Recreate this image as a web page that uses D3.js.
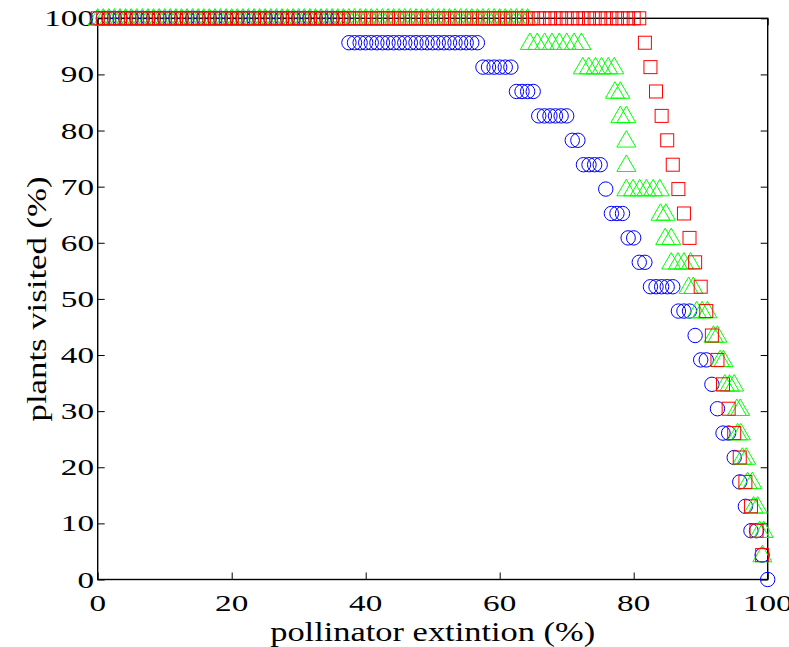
<!DOCTYPE html>
<html><head><meta charset="utf-8">
<script src="https://cdn.jsdelivr.net/npm/d3@7"></script>
<style>body{margin:0;background:#fff}svg{display:block}text{font-family:"Liberation Serif","Times New Roman",Times,serif}</style>
</head><body><svg id="c" width="789" height="647"></svg>
<script>
// shared x positions (pollinator extinction %, blue and red series)
const pollinatorLoss = [
 0,0.83,1.67,2.5,3.33,4.17,5,5.83,6.67,7.5,8.33,9.17,10,10.83,11.67,12.5,13.33,14.17,15,15.83,
 16.67,17.5,18.33,19.17,20,20.83,21.67,22.5,23.33,24.17,25,25.83,26.67,27.5,28.33,29.17,30,30.83,31.67,32.5,
 33.33,34.17,35,35.83,36.67,37.5,38.33,39.17,40,40.83,41.67,42.5,43.33,44.17,45,45.83,46.67,47.5,48.33,49.17,
 50,50.83,51.67,52.5,53.33,54.17,55,55.83,56.67,57.5,58.33,59.17,60,60.83,61.67,62.5,63.33,64.17,65,65.83,
 66.67,67.5,68.33,69.17,70,70.83,71.67,72.5,73.33,74.17,75,75.83,76.67,77.5,78.33,79.17,80,80.83,81.67,82.5,
 83.33,84.17,85,85.83,86.67,87.5,88.33,89.17,90,90.83,91.67,92.5,93.33,94.17,95,95.83,96.67,97.5,98.33,99.17,
 100];

// blue circles: plants visited (%)
const blueVisited = [
 100,100,100,100,100,100,100,100,100,100, 100,100,100,100,100,100,100,100,100,100,
 100,100,100,100,100,100,100,100,100,100, 100,100,100,100,100,100,100,100,100,100,
 100,100,100,100,100,
 95.65,95.65,95.65,95.65,95.65,95.65, 95.65,95.65,95.65,95.65,95.65,95.65,
 95.65,95.65,95.65,95.65,95.65,95.65, 95.65,95.65,95.65,95.65,95.65,95.65,
 91.3,91.3,91.3,91.3,91.3,91.3,
 86.96,86.96,86.96,86.96,
 82.61,82.61,82.61,82.61,82.61,82.61,
 78.26,78.26,
 73.91,73.91,73.91,73.91,
 69.57,
 65.22,65.22,65.22,
 60.87,60.87,
 56.52,56.52,
 52.17,52.17,52.17,52.17,52.17,
 47.83,47.83,47.83,
 43.48,
 39.13,39.13,
 34.78,
 30.43,
 26.09,26.09,
 21.74,
 17.39,
 13.04,
 8.7,8.7,
 4.35,
 0];

// red squares: plants visited (%)
const redVisited = [
 100,100,100,100,100,100,100,100,100,100, 100,100,100,100,100,100,100,100,100,100,
 100,100,100,100,100,100,100,100,100,100, 100,100,100,100,100,100,100,100,100,100,
 100,100,100,100,100,100,100,100,100,100, 100,100,100,100,100,100,100,100,100,100,
 100,100,100,100,100,100,100,100,100,100, 100,100,100,100,100,100,100,100,100,100,
 100,100,100,100,100,100,100,100,100,100, 100,100,100,100,100,100,100,100,
 95.65,91.3,86.96,82.61,78.26,73.91,69.57,65.22,60.87,56.52,52.17,
 47.83,43.48,39.13,34.78,30.43,26.09,21.74,17.39,13.04,8.7,4.35,
 null];

// green triangles: own x positions and plants visited (%)
const greenLoss = [
 0,0.83,1.67,2.5,3.33,4.17,5,5.83,6.67,7.5,8.33,9.17,10,10.83,11.67,12.5,13.33,14.17,15,15.83,
 16.67,17.5,18.33,19.17,20,20.83,21.67,22.5,23.33,24.17,25,25.83,26.67,27.5,28.33,29.17,30,30.83,31.67,32.5,
 33.33,34.17,35,35.83,36.67,37.5,38.33,39.17,40,40.83,41.67,42.5,43.33,44.17,45,45.83,46.67,47.5,48.33,49.17,
 50,50.83,51.67,52.5,53.33,54.17,55,55.83,56.67,57.5,58.33,59.17,60,60.83,61.67,62.5,63.33,64.17,
 64.5,65.6,66.7,67.8,68.9,70,71.1,72.2,
 72.4,73.3,74.3,75.2,76.2,77.1,
 77.2,78,
 78,78.9,
 78.9,
 78.9,
 78.9,79.9,80.9,81.9,82.9,83.9,
 84,84.8,
 84.7,85.6,
 85.6,86.6,87.5,88.5,
 88.2,88.9,
 89.4,90.2,91,
 91.9,92.5,
 92.9,93.4,
 93.6,94.3,95,
 95.4,95.9,
 95.5,96,
 96.2,96.8,
 97,97.7,
 97.9,98.5,
 98.8,99.4,
 99.2];
const greenVisited = [
 100,100,100,100,100,100,100,100,100,100, 100,100,100,100,100,100,100,100,100,100,
 100,100,100,100,100,100,100,100,100,100, 100,100,100,100,100,100,100,100,100,100,
 100,100,100,100,100,100,100,100,100,100, 100,100,100,100,100,100,100,100,100,100,
 100,100,100,100,100,100,100,100,100,100, 100,100,100,100,100,100,100,100,
 95.65,95.65,95.65,95.65,95.65,95.65,95.65,95.65,
 91.3,91.3,91.3,91.3,91.3,91.3,
 86.96,86.96,
 82.61,82.61,
 78.26,
 73.91,
 69.57,69.57,69.57,69.57,69.57,69.57,
 65.22,65.22,
 60.87,60.87,
 56.52,56.52,56.52,56.52,
 52.17,52.17,
 47.83,47.83,47.83,
 43.48,43.48,
 39.13,39.13,
 34.78,34.78,34.78,
 30.43,30.43,
 26.09,26.09,
 21.74,21.74,
 17.39,17.39,
 13.04,13.04,
 8.7,8.7,
 4.35];

const xTicks = [0,20,40,60,80,100];
const yTicks = [0,10,20,30,40,50,60,70,80,90,100];
const xTitle = "pollinator extintion (%)";
const yTitle = "plants visited (%)";

const svg = d3.select("#c");
const L = 97.7, R = 767.7, T = 18.3, B = 579.5;
const x = d3.scaleLinear().domain([0,100]).range([L,R]);
const y = d3.scaleLinear().domain([0,100]).range([B,T]);

// frame + ticks
const tick = 7;
function styleAxis(g){ g.select(".domain").remove(); g.selectAll(".tick line").attr("stroke","#000").attr("stroke-width",1); }
svg.append("g").attr("transform",`translate(0,${B})`)
  .call(d3.axisBottom(x).tickValues(xTicks).tickSize(-tick).tickFormat(""))
  .call(styleAxis);
svg.append("g").attr("transform",`translate(0,${T})`)
  .call(d3.axisTop(x).tickValues(xTicks).tickSize(-tick).tickFormat(""))
  .call(styleAxis);
svg.append("g").attr("transform",`translate(${L},0)`)
  .call(d3.axisLeft(y).tickValues(yTicks).tickSize(-tick).tickFormat(""))
  .call(styleAxis);
svg.append("g").attr("transform",`translate(${R},0)`)
  .call(d3.axisRight(y).tickValues(yTicks).tickSize(-tick).tickFormat(""))
  .call(styleAxis);
svg.append("rect").attr("x",L).attr("y",T).attr("width",R-L).attr("height",B-T)
  .attr("fill","none").attr("stroke","#000").attr("stroke-width",1.4);

// tick labels (wide serif digits as in the original)
const digitW = 16.6;
svg.append("g").selectAll("text").data(xTicks).join("text")
  .attr("x",d=>x(d)).attr("y",611).attr("text-anchor","middle")
  .attr("font-size",23)
  .attr("textLength",d=>String(d).length*digitW).attr("lengthAdjust","spacingAndGlyphs")
  .text(d=>d);
svg.append("g").selectAll("text").data(yTicks).join("text")
  .attr("x",94).attr("y",d=>y(d)+8).attr("text-anchor","end")
  .attr("font-size",23)
  .attr("textLength",d=>String(d).length*digitW).attr("lengthAdjust","spacingAndGlyphs")
  .text(d=>d);

// axis titles
svg.append("text").attr("x",(L+R)/2).attr("y",641).attr("text-anchor","middle")
  .attr("font-size",28)
  .attr("textLength",325).attr("lengthAdjust","spacingAndGlyphs").text(xTitle);
svg.append("text").attr("transform",`translate(46,${(T+B)/2}) rotate(-90)`).attr("text-anchor","middle")
  .attr("font-size",28)
  .attr("textLength",245).attr("lengthAdjust","spacingAndGlyphs").text(yTitle);

// markers
const blueData = pollinatorLoss.map((v,i)=>({x:v,y:blueVisited[i]})).filter(d=>d.y!=null);
const redData = pollinatorLoss.map((v,i)=>({x:v,y:redVisited[i]})).filter(d=>d.y!=null);
const greenData = greenLoss.map((v,i)=>({x:v,y:greenVisited[i]}));

svg.append("g").selectAll("circle").data(blueData).join("circle")
  .attr("cx",d=>x(d.x)).attr("cy",d=>y(d.y)).attr("r",7.2)
  .attr("fill","none").attr("stroke","#0000ff").attr("stroke-width",1);

const tw = 19, th = 16.5;
svg.append("g").selectAll("path").data(greenData).join("path")
  .attr("d",d=>{const cx=x(d.x), cy=y(d.y)-1.5;
    return `M${cx},${cy-th/2}L${cx+tw/2},${cy+th/2}L${cx-tw/2},${cy+th/2}Z`;})
  .attr("fill","none").attr("stroke","#00ff00").attr("stroke-width",1);

const sq = 13;
svg.append("g").selectAll("rect").data(redData).join("rect")
  .attr("x",d=>x(d.x)-sq/2).attr("y",d=>y(d.y)-sq/2).attr("width",sq).attr("height",sq)
  .attr("fill","none").attr("stroke","#ff0000").attr("stroke-width",1);
</script>
</body></html>
